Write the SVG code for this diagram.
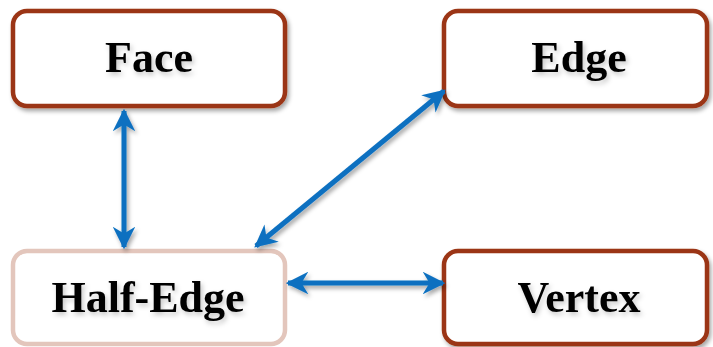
<svg xmlns="http://www.w3.org/2000/svg" width="713" height="347" viewBox="0 0 713 347">
<style>
.box{fill:#fff;stroke:#9B3614;stroke-width:4.5}
.box2{fill:#fff;stroke:#E3C6BC;stroke-width:4.5}
.lbl{font-family:"Liberation Serif",serif;font-weight:bold;font-size:44px;fill:#000;text-anchor:middle}
.conn{stroke:#0A70C0;stroke-width:5;fill:none;marker-start:url(#ah);marker-end:url(#ah)}
</style>
<defs>
<filter id="sh" x="-20%" y="-20%" width="140%" height="140%">
<feDropShadow dx="2" dy="3" stdDeviation="2" flood-color="#000" flood-opacity="0.35"/>
</filter>
<filter id="tsh" x="-20%" y="-30%" width="140%" height="160%">
<feDropShadow dx="2" dy="3" stdDeviation="2.5" flood-color="#000" flood-opacity="0.22"/>
</filter>
<marker id="ah" viewBox="0 0 10 10" refX="9" refY="5" markerWidth="4.5" markerHeight="4.5" orient="auto-start-reverse" markerUnits="strokeWidth">
<path d="M0,0 L10,5 L0,10 L3,5 Z" fill="#0A70C0"/>
</marker>
</defs>
<g id="face"><rect class="box" x="13" y="11" width="272" height="95" rx="14" filter="url(#sh)"/><text class="lbl" x="149" y="72" filter="url(#tsh)">Face</text></g>
<g id="edge"><rect class="box" x="444" y="11" width="263" height="95" rx="14" filter="url(#sh)"/><text class="lbl" x="579" y="72" filter="url(#tsh)">Edge</text></g>
<g id="half-edge"><rect class="box2" x="13" y="251" width="272" height="93" rx="14"/><text class="lbl" x="148" y="312" filter="url(#tsh)">Half-Edge</text></g>
<g id="vertex"><rect class="box" x="444" y="251" width="263" height="93" rx="14" filter="url(#sh)"/><text class="lbl" x="579" y="312" filter="url(#tsh)">Vertex</text></g>
<g id="connectors" filter="url(#sh)">
<line class="conn" x1="124" y1="111" x2="124" y2="247"/>
<line class="conn" x1="256" y1="246" x2="444" y2="91"/>
<line class="conn" x1="288" y1="283" x2="443" y2="283"/>
</g>
</svg>
